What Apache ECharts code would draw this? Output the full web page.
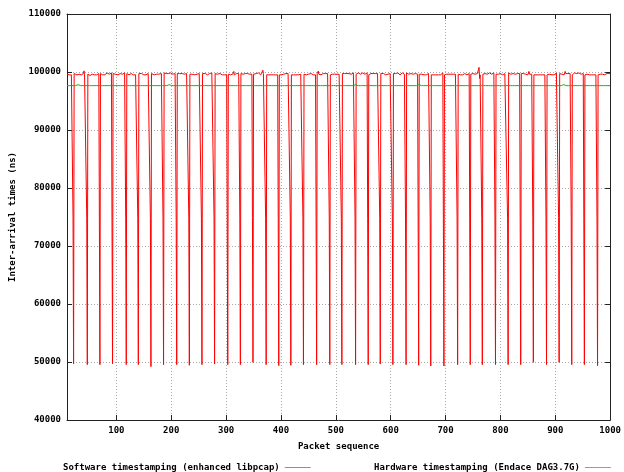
<!DOCTYPE html>
<html>
<head>
<meta charset="utf-8">
<title>Inter-arrival times</title>
<script src="https://cdn.jsdelivr.net/npm/echarts@6/dist/echarts.min.js"></script>
<style>
  html, body { margin: 0; padding: 0; background: #fff; }
  #chart { width: 624px; height: 472px; }
</style>
</head>
<body>
<div id="chart"></div>
<script>
// Packet range shown on the x axis
const packetFirst = 10;
const packetLast = 1000;
const xTicks = [100, 200, 300, 400, 500, 600, 700, 800, 900, 1000];

// Software timestamping: steady level, per-packet jitter (one digit per packet, 4 = level)
const swLevel = 99620;
const swJitterStep = 110;
const swJitter =
  "45343546345245364435434526344354364534435624354345" +
  "34543643534526435443543645344356345453463443544534" +
  "54354634453463544534536443545345634453543645344354" +
  "43545364435434536453445354363445354534564354344536" +
  "35443563445345436453453446354354435634453543643545" +
  "44535436445354634543543645344536435463445354435634" +
  "53446354354435634543645345344563544354364534453546" +
  "34536443545346354435643545345436453443546354345435" +
  "45354364534453546345443563454353464534354634453543" +
  "54436453543463544536453445364534354635443545364453" +
  "43546354435643545345346453544356345453464354435643" +
  "35445364534354635445345364453543563445354634453545" +
  "44563453543645344536453454354634453546345443564535" +
  "53454364453546344535463454436453543654345346354435" +
  "45364435453464534354635445364354453546345436445354" +
  "34536453445354634453643545346354435643545345364453" +
  "54435634543645345436453445635443546345453644535463" +
  "43546354436453545345634453546435443654353464534454" +
  "35464534354635443564534536443545364534453546354345" +
  "45344536453546344536454353464534435643545346354435";

// Occasional larger excursions of the software trace [packet, ns]
const swPeaks = [[41, 100200], [314, 100100], [367, 100300], [468, 100150],
                 [673, 100100], [761, 100800], [762, 98900], [852, 100100], [918, 100100]];

// Periodic drops of the software trace: packet of the low point, low value, value of the packet before
const spikeAt = [22, 47, 70, 93, 118, 140, 163, 186, 210, 233, 256,
                 279, 303, 326, 349, 373, 396, 418, 441, 465, 489,
                 511, 536, 559, 581, 604, 628, 651, 673, 697, 722, 745,
                 767, 791, 814, 837, 860, 884, 907, 930, 953, 977];
const spikeLow = [49650, 49540, 49540, 49710, 49540, 49540, 49200, 49540, 49540, 49430, 49540,
                  49650, 49540, 49540, 49940, 49540, 49370, 49430, 49540, 49540, 49540,
                  49540, 49540, 49540, 49650, 49540, 49540, 49430, 49310, 49310, 49540, 49540,
                  49540, 49540, 49540, 49540, 49940, 49540, 49940, 49540, 49540, 49370];
const spikeMid = [74800, 74800, 74800, 74800, 74800, 74800, 74700, 74800, 74800, 74800, 74800,
                  74800, 74800, 74800, 74900, 74800, 74700, 74800, 74800, 74800, 74800,
                  74800, 74800, 74800, 74800, 74800, 74800, 74800, 74700, 74700, 74800, 74800,
                  74800, 74800, 74800, 74800, 74900, 74800, 74900, 74800, 74800, 74700];

// Hardware timestamping: flat level with small bumps [packet, ns]
const hwLevel = 97650;
const hwBumps = [[30, 97820], [54, 97820], [105, 97820], [145, 97820], [196, 97820], [214, 97820],
                 [238, 97820], [266, 97820], [290, 97820], [314, 97820], [339, 97820], [369, 97820],
                 [384, 97820], [402, 97820], [420, 97820], [444, 97820], [469, 97820], [536, 97820],
                 [551, 97820], [569, 97820], [600, 97820], [624, 97820], [651, 97820], [679, 97820],
                 [703, 97820], [754, 97820], [775, 97820], [803, 97820], [821, 97820], [848, 97820],
                 [872, 97820], [888, 97820], [915, 97820], [939, 97820], [963, 97820], [987, 97820]];

// Y axis
const yMin = 40000, yMax = 110000, yStep = 10000;

const seriesNames = ['Software timestamping (enhanced libpcap)', 'Hardware timestamping (Endace DAG3.7G)'];

// Build the point lists
const software = new Map();
const hardware = new Map();
for (let p = packetFirst; p <= packetLast; p++) {
  const d = Number(swJitter[p - packetFirst]);
  software.set(p, swLevel + (d - 4) * swJitterStep);
  hardware.set(p, hwLevel);
}
swPeaks.forEach(([p, v]) => software.set(p, v));
spikeAt.forEach((p, i) => {
  software.set(p - 1, spikeMid[i]);
  software.set(p, spikeLow[i]);
});
hwBumps.forEach(([p, v]) => hardware.set(p, v));
const swData = Array.from(software.entries()).sort((a, b) => a[0] - b[0]);
const hwData = Array.from(hardware.entries()).sort((a, b) => a[0] - b[0]);

const font = 'DejaVu Sans Mono';
const textStyle = { fontFamily: font, fontWeight: 'bold', fontSize: 9, color: '#000' };
const frame = { lineStyle: { color: '#222', width: 1 } };
const grid = { show: true, lineStyle: { color: '#a8a8a8', width: 1, type: [1, 2] } };

const chart = echarts.init(document.getElementById('chart'), null, { renderer: 'canvas' });
chart.setOption({
  animation: false,
  backgroundColor: '#fff',
  grid: { left: 67, right: 13, top: 14, bottom: 52, containLabel: false },
  xAxis: [
    {
      type: 'value', min: packetFirst, max: packetLast, position: 'bottom',
      name: 'Packet sequence', nameLocation: 'middle', nameGap: 22, nameTextStyle: textStyle,
      axisLine: Object.assign({ show: true }, frame),
      axisTick: { show: true, inside: true, length: 5, customValues: xTicks, lineStyle: { color: '#222' } },
      axisLabel: Object.assign({ customValues: xTicks, margin: 6, formatter: v => String(v) }, textStyle),
      splitLine: grid
    },
    {
      type: 'value', min: packetFirst, max: packetLast, position: 'top',
      axisLine: Object.assign({ show: true }, frame),
      axisTick: { show: true, inside: true, length: 5, customValues: xTicks, lineStyle: { color: '#222' } },
      axisLabel: { show: false },
      splitLine: { show: false }
    }
  ],
  yAxis: [
    {
      type: 'value', min: yMin, max: yMax, interval: yStep, position: 'left',
      name: 'Inter-arrival times (ns)', nameLocation: 'middle', nameGap: 43, nameRotate: 90,
      nameTextStyle: textStyle,
      axisLine: Object.assign({ show: true }, frame),
      axisTick: { show: true, inside: true, length: 5, lineStyle: { color: '#222' } },
      axisLabel: Object.assign({ margin: 6, formatter: v => String(v) }, textStyle),
      splitLine: grid
    },
    {
      type: 'value', min: yMin, max: yMax, interval: yStep, position: 'right',
      axisLine: Object.assign({ show: true }, frame),
      axisTick: { show: true, inside: true, length: 5, lineStyle: { color: '#222' } },
      axisLabel: { show: false },
      splitLine: { show: false }
    }
  ],
  legend: [
    {
      data: [seriesNames[0]], left: 63, top: 463, padding: 0, align: 'right', icon: 'rect',
      itemWidth: 26, itemHeight: 1, itemGap: 0, textStyle: textStyle,
      itemStyle: { color: '#ff6060' }, selectedMode: false
    },
    {
      data: [seriesNames[1]], left: 374, top: 463, padding: 0, align: 'right', icon: 'rect',
      itemWidth: 26, itemHeight: 1, itemGap: 0, textStyle: textStyle,
      itemStyle: { color: '#50d050' }, selectedMode: false
    }
  ],
  series: [
    {
      name: seriesNames[0], type: 'line', data: swData, showSymbol: false, symbol: 'none',
      smooth: false,
      lineStyle: { color: '#ff0000', width: 1 }, itemStyle: { color: '#ff0000' },
      xAxisIndex: 0, yAxisIndex: 0, z: 2, silent: true
    },
    {
      name: seriesNames[1], type: 'line', data: hwData, showSymbol: false, symbol: 'none',
      smooth: false,
      lineStyle: { color: '#00c000', width: 1 }, itemStyle: { color: '#00c000' },
      xAxisIndex: 0, yAxisIndex: 0, z: 3, silent: true
    }
  ]
});
</script>
</body>
</html>
